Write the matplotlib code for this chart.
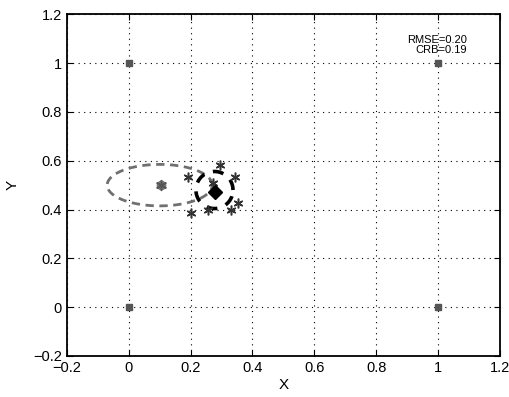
import numpy as np
import matplotlib
matplotlib.use("Agg")
import matplotlib.pyplot as plt

plt.rcParams['font.family'] = ['Liberation Sans', 'DejaVu Sans']

# Anchor nodes
anchor_x = [0, 0, 1, 1]
anchor_y = [0, 1, 0, 1]

# Estimate samples (asterisks)
est_x = [0.294, 0.192, 0.345, 0.273, 0.354, 0.332, 0.255, 0.201]
est_y = [0.582, 0.534, 0.534, 0.507, 0.425, 0.398, 0.400, 0.385]

# Mean estimate (diamond) and true position (gray)
mean_x, mean_y = 0.278, 0.472
true_x, true_y = 0.103, 0.500

# Ellipses: centre x, centre y, half-width, half-height
crb_ell = (0.10, 0.50, 0.17, 0.085)
est_ell = (0.277, 0.48, 0.06, 0.076)

ticks = [-0.2, 0, 0.2, 0.4, 0.6, 0.8, 1, 1.2]
tick_labels = ['\u22120.2', '0', '0.2', '0.4', '0.6', '0.8', '1', '1.2']

fig = plt.figure(figsize=(5.09, 3.97), dpi=100)
ax = fig.add_axes([0.1316, 0.1033, 0.8504, 0.8607])

t = np.linspace(0, 2 * np.pi, 200)
cx, cy, a, b = crb_ell
ax.plot(cx + a * np.cos(t), cy + b * np.sin(t), color='#707070', lw=2.0,
        linestyle=(0, (3, 2)), zorder=3)
cx, cy, a, b = est_ell
ax.plot(cx + a * np.cos(t), cy + b * np.sin(t), color='black', lw=2.6,
        linestyle=(0, (3, 2.5)), zorder=4)

ax.plot(anchor_x, anchor_y, linestyle='none', marker='s', ms=5,
        color='#555555', zorder=5)
ax.plot(est_x, est_y, linestyle='none', marker=(6, 2, 0), ms=7,
        color='#333333', mew=1.1, zorder=5)
ax.plot([true_x], [true_y], linestyle='none', marker='o', ms=6,
        color='#777777', zorder=5)
ax.plot([true_x], [true_y], linestyle='none', marker=(6, 2, 0), ms=8,
        color='#555555', mew=1.0, zorder=5)
ax.plot([mean_x], [mean_y], linestyle='none', marker='D', ms=7,
        color='black', zorder=6)

ax.text(1.094, 1.094, 'RMSE=0.20', ha='right', va='center', fontsize=8)
ax.text(1.094, 1.052, 'CRB=0.19', ha='right', va='center', fontsize=8)

ax.set_xlim(-0.2, 1.2)
ax.set_ylim(-0.2, 1.2)
ax.set_xticks(ticks)
ax.set_xticklabels(tick_labels)
ax.set_yticks(ticks)
ax.set_yticklabels(tick_labels)
ax.grid(True, linestyle=(0, (1, 4)), color='black', lw=0.8)
ax.tick_params(direction='in', top=True, right=True, length=4, labelsize=10.5)
for s in ax.spines.values():
    s.set_linewidth(1.3)
ax.set_xlabel('X', fontsize=11, labelpad=2)
ax.set_ylabel('Y', fontsize=11, labelpad=10)

fig.savefig('out.png', dpi=100)
